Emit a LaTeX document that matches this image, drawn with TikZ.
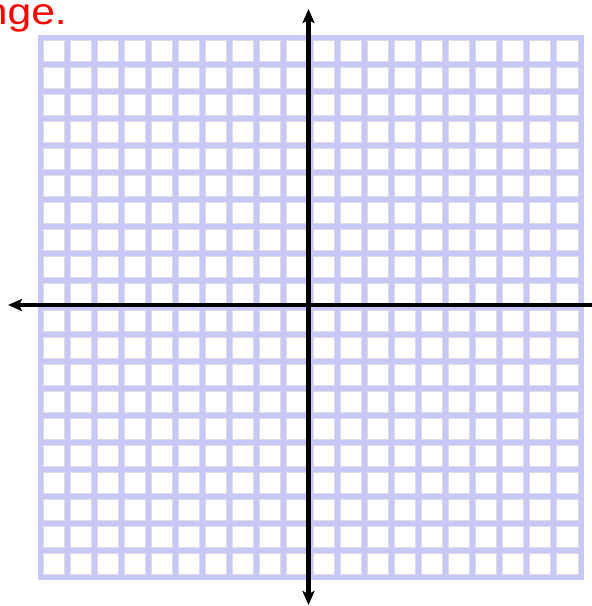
\documentclass[tikz,border=0pt]{standalone}
\usepackage{fontspec}
\setmainfont{Liberation Sans}
\usetikzlibrary{arrows.meta}
\definecolor{lav}{RGB}{200,200,248}
\definecolor{shade}{RGB}{220,220,226}
\begin{document}
\begin{tikzpicture}[x=1pt,y=-1pt,
  axisline/.style={line width=4.5pt, black},
  tipend/.style={-{Stealth[length=14pt,width=12pt,inset=3pt]}},
  bothtips/.style={{Stealth[length=14pt,width=12pt,inset=3pt]}-{Stealth[length=14pt,width=12pt,inset=3pt]}},
  celledge/.style={fill=shade},
  cellin/.style={fill=white}]
\useasboundingbox (0,0) rectangle (592,606);
\fill[white] (0,0) rectangle (592,606);
% grid paper
\fill[lav] (37.5,35) rectangle (583.5,580);
\foreach \i in {0,...,19}{
  \foreach \j in {0,...,19}{
    \fill[celledge] ({40+27.05*\i+2.5},{37.5+27*\j+2.5}) rectangle ({40+27.05*(\i+1)-2.5},{37.5+27*(\j+1)-2.5});
    \fill[cellin] ({40+27.05*\i+3.5},{37.5+27*\j+3.5}) rectangle ({40+27.05*(\i+1)-3.5},{37.5+27*(\j+1)-3.5});
  }
}
% axes
\coordinate (ytop) at (308.5,9);
\coordinate (ybot) at (308.5,605);
\coordinate (xleft) at (8,305);
\coordinate (xright) at (600,305);
\draw[axisline, tipend] (xright) -- (xleft);
\draw[axisline, bothtips] (ybot) -- (ytop);
% text
\node[anchor=base east, text=red, font=\fontsize{37}{42}\selectfont, inner sep=0pt] (lbl) at (67,24) {\scalebox{1.15}[1]{nge.}};
\end{tikzpicture}
\end{document}
